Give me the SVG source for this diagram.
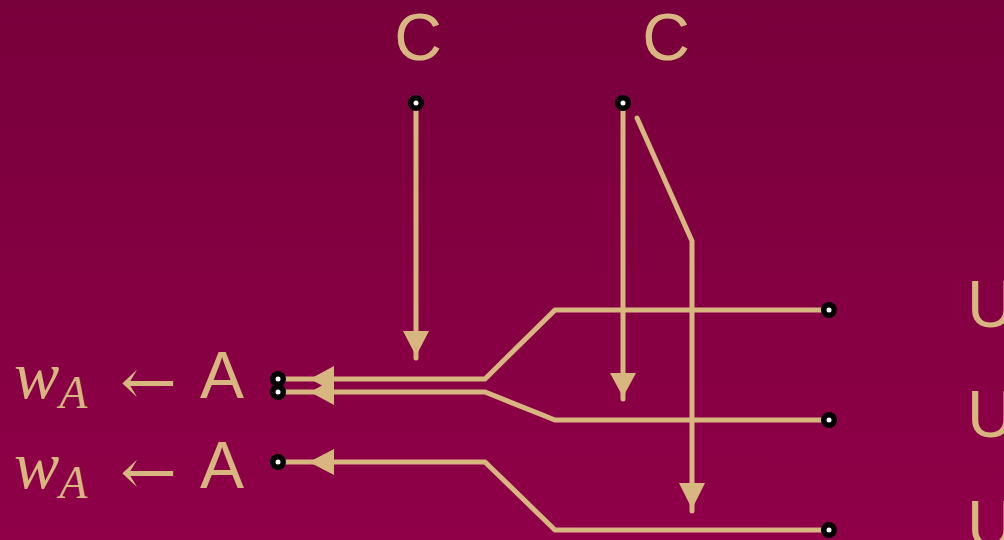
<svg xmlns="http://www.w3.org/2000/svg" width="1004" height="540" viewBox="0 0 1004 540">
<defs>
<linearGradient id="bg" x1="0" y1="0" x2="0" y2="1">
<stop offset="0" stop-color="#78003b"/>
<stop offset="1" stop-color="#8f0048"/>
</linearGradient>
<style>
.w{fill:none;stroke:#d8b680;stroke-width:5;stroke-linecap:round;stroke-linejoin:miter}
.ah{fill:#d8b680}
.sans{font-family:"Liberation Sans",Arial,sans-serif;font-size:66px;fill:#d8b680}
.math{font-family:"Liberation Serif","DejaVu Serif",serif;fill:#d8b680}
.arr{font-family:"DejaVu Serif",serif;font-size:64px;fill:#d8b680}
.dot{fill:#000}
.hole{fill:#fff}
</style>
</defs>
<rect width="1004" height="540" fill="url(#bg)"/>
<g id="connectors">
<path class="w" d="M416,103 V358"/>
<polygon class="ah" points="403,331 429,331 416,356"/>
<path class="w" d="M623,103 V399"/>
<polygon class="ah" points="610,373 636,373 623,397"/>
<path class="w" d="M637,118 L692,241 V511"/>
<polygon class="ah" points="679,483 705,483 692,509"/>
<path class="w" d="M829,310 H555 L485,379 H278"/>
<polygon class="ah" points="310,379 334,366 334,392"/>
<path class="w" d="M829,420 H555 L485,392 H278"/>
<polygon class="ah" points="310,392 334,379 334,405"/>
<path class="w" d="M829,530 H555 L485,462 H278"/>
<polygon class="ah" points="309,462 334,449 334,475"/>
</g>
<g id="top-left-C">
<text class="sans" x="418" y="60" text-anchor="middle">C</text>
<circle class="dot" cx="416" cy="103" r="8"/><circle class="hole" cx="416" cy="103" r="2.5"/>
</g>
<g id="top-right-C">
<text class="sans" x="666" y="60" text-anchor="middle">C</text>
<circle class="dot" cx="623" cy="103" r="8"/><circle class="hole" cx="623" cy="103" r="2.5"/>
</g>
<g id="left-A1">
<text class="math" x="14" y="398"><tspan font-style="italic" font-size="68">w</tspan><tspan font-style="italic" font-size="46" dy="10">A</tspan></text>
<text class="arr" x="120" y="404" textLength="57" lengthAdjust="spacingAndGlyphs">←</text>
<text class="sans" x="200" y="398">A</text>
<circle class="dot" cx="278" cy="379" r="8"/><circle class="hole" cx="278" cy="379" r="2.5"/>
<circle class="dot" cx="278" cy="392" r="8"/><circle class="hole" cx="278" cy="392" r="2.5"/>
</g>
<g id="left-A2">
<text class="math" x="14" y="488"><tspan font-style="italic" font-size="68">w</tspan><tspan font-style="italic" font-size="46" dy="10">A</tspan></text>
<text class="arr" x="120" y="494" textLength="57" lengthAdjust="spacingAndGlyphs">←</text>
<text class="sans" x="200" y="488">A</text>
<circle class="dot" cx="278" cy="462" r="8"/><circle class="hole" cx="278" cy="462" r="2.5"/>
</g>
<g id="right-U1">
<text class="sans" x="967" y="327">U</text>
<circle class="dot" cx="829" cy="310" r="8"/><circle class="hole" cx="829" cy="310" r="2.5"/>
</g>
<g id="right-U2">
<text class="sans" x="967" y="437">U</text>
<circle class="dot" cx="829" cy="420" r="8"/><circle class="hole" cx="829" cy="420" r="2.5"/>
</g>
<g id="right-U3">
<text class="sans" x="967" y="547">U</text>
<circle class="dot" cx="829" cy="530" r="8"/><circle class="hole" cx="829" cy="530" r="2.5"/>
</g>
</svg>
